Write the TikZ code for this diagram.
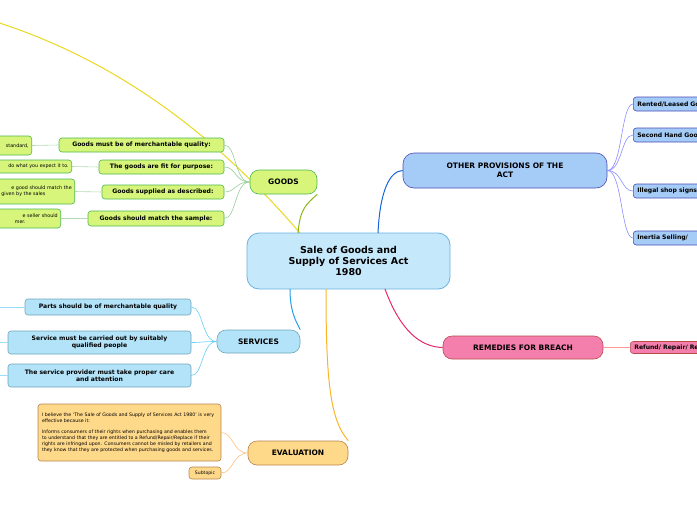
\documentclass[tikz,border=0pt]{standalone}
\usepackage{fontspec}
\setmainfont{DejaVu Sans}
\begin{document}
\begin{tikzpicture}[x=1pt,y=-1pt,
 box/.style={draw=#1!60!black!70,rounded corners=3pt,line width=0.6pt,font=\bfseries\fontsize{6.1}{7}\selectfont,inner sep=0pt,align=center},
 gbox/.style={box=green,fill=goodsc},
 sbox/.style={box=cyan,fill=servc},
 obox/.style={box=blue,fill=othc},
 pbox/.style={box=red,fill=remc},
 ebox/.style={box=orange,fill=evalc},
 link/.style={line width=0.6pt}]
\definecolor{goodsc}{HTML}{D6F57A}\definecolor{servc}{HTML}{B3E3F8}
\definecolor{othc}{HTML}{A5CBF7}\definecolor{remc}{HTML}{F57FAC}
\definecolor{evalc}{HTML}{FFD98A}\definecolor{centc}{HTML}{C5E8FB}
\useasboundingbox (0,0) rectangle (697,520);
\clip (0,0) rectangle (697,520);
% yellow curve
\draw[line width=1pt,color={rgb,255:red,232;green,216;blue,32}] (-10,20) .. controls (120,60) and (220,140) .. (300,233);
% center
\node[draw={rgb,255:red,106;green,178;blue,224},fill=centc,rounded corners=12pt,line width=0.8pt,minimum width=203pt,minimum height=56pt,font=\bfseries\fontsize{9.5}{11}\selectfont,align=center] (c) at (348.5,261) {Sale of Goods and\\Supply of Services Act\\1980};
% main topics
\node[gbox,rounded corners=9pt,minimum width=67pt,minimum height=24pt,font=\bfseries\fontsize{7.5}{9}\selectfont] (g) at (283.5,182) {GOODS};
\node[sbox,rounded corners=9pt,minimum width=83pt,minimum height=23pt,font=\bfseries\fontsize{7.5}{9}\selectfont] (s) at (258.5,341.5) {SERVICES};
\node[ebox,rounded corners=9pt,minimum width=100pt,minimum height=24pt,font=\bfseries\fontsize{7.5}{9}\selectfont] (e) at (298,453) {EVALUATION};
\node[obox,rounded corners=11pt,minimum width=204pt,minimum height=35pt,font=\bfseries\fontsize{7.5}{9}\selectfont] (o) at (505,170.5) {OTHER PROVISIONS OF THE\\ACT};
\node[pbox,rounded corners=9pt,minimum width=160pt,minimum height=23pt,font=\bfseries\fontsize{7.5}{9}\selectfont] (r) at (523,347.5) {REMEDIES FOR BREACH};
\draw[link,line width=1pt,color={rgb,255:red,140;green,180;blue,20}] (298,233) .. controls (300,210) and (305,205) .. (g.south east);
\draw[link,line width=1pt,color={rgb,255:red,40;green,160;blue,230}] (290,289) .. controls (290,310) and (295,320) .. (s.north east);
\draw[link,line width=1pt,color={rgb,255:red,250;green,180;blue,40}] (326,289) .. controls (326,380) and (330,420) .. (e.north east);
\draw[link,line width=1pt,color={rgb,255:red,20;green,100;blue,220}] (378,233) .. controls (380,190) and (390,171) .. (o.west);
\draw[link,line width=1pt,color={rgb,255:red,230;green,40;blue,110}] (385,289) .. controls (400,330) and (420,347) .. (r.west);
% goods children
\node[gbox,minimum width=165pt,minimum height=14pt] (g1) at (141.5,145) {Goods must be of merchantable quality:};
\node[gbox,minimum width=125pt,minimum height=14pt] (g2) at (161.5,167) {The goods are fit for purpose:};
\node[gbox,minimum width=122pt,minimum height=14pt] (g3) at (163,192) {Goods supplied as described:};
\node[gbox,minimum width=136pt,minimum height=15pt] (g4) at (156,218.5) {Goods should match the sample:};
\foreach \n in {g1,g2,g3,g4} \draw[link,green!50!black!40] (g.west) .. controls +(-15,0) and +(12,0) .. (\n.east);
\tikzset{gsm/.style={gbox,font=\fontsize{4.8}{5.8}\selectfont,align=left,text width=#1,inner xsep=3pt}}
\node[gsm=80pt,minimum height=19pt,anchor=east] (h1) at (32,145.5) {\hfill standard,};
\node[gsm=100pt,minimum height=13pt,anchor=east] (h2) at (72,166.5) {\hfill do what you expect it to.};
\node[gsm=110pt,minimum height=25pt,anchor=east] (h3) at (75,191.5) {\hfill e good should match the\\\hfill given by the sales\phantom{ match the}};
\node[gsm=90pt,minimum height=19pt,anchor=east] (h4) at (61,218.5) {\hfill e seller should\\\hfill mer.\phantom{ seller should}};
\draw[link,green!50!black!30] (h1.east)--(g1.west); \draw[link,green!50!black!30] (h2.east)--(g2.west);
\draw[link,green!50!black!30] (h3.east)--(g3.west); \draw[link,green!50!black!30] (h4.east)--(g4.west);
% services children
\node[sbox,minimum width=166pt,minimum height=16pt] (s1) at (108,307) {Parts should be of merchantable quality};
\node[sbox,minimum width=183pt,minimum height=23pt] (s2) at (99.5,342.5) {Service must be carried out by suitably\\qualified people};
\node[sbox,minimum width=183pt,minimum height=23pt] (s3) at (99.5,375.5) {The service provider must take proper care\\and attention};
\foreach \n in {s1,s2,s3} \draw[link,cyan!60] (s.west) .. controls +(-15,0) and +(12,0) .. (\n.east);
\draw[link,cyan!40] (s1.west)--(-5,307); \draw[link,cyan!40] (s2.west)--(-5,342.5); \draw[link,cyan!40] (s3.west)--(-5,375.5);
% evaluation
\node[ebox,minimum width=183pt,minimum height=57pt,font=\fontsize{4.7}{6}\selectfont,align=left,text width=175pt] (e1) at (129.5,432.5) {I believe the `The Sale of Goods and Supply of Services Act 1980' is very effective because it:\\[5.5pt]Informs consumers of their rights when purchasing and enables them to understand that they are entitled to a Refund/Repair/Replace if their rights are infringed upon. Consumers cannot be misled by retailers and they know that they are protected when purchasing goods and services.};
\node[ebox,minimum width=32pt,minimum height=12pt,font=\fontsize{4.6}{6}\selectfont] (e2) at (205,473) {Subtopic};
\foreach \n in {e1,e2} \draw[link,orange!50] (e.west) .. controls +(-15,0) and +(12,0) .. (\n.east);
% other provisions children
\tikzset{ob/.style={obox,minimum height=14pt,anchor=west,text width=80pt,align=left,inner xsep=4pt}}
\node[ob] (o1) at (633,104) {Rented/Leased Goods};
\node[ob] (o2) at (633,135) {Second Hand Goods};
\node[ob] (o3) at (633,191) {Illegal shop signs};
\node[ob] (o4) at (633,238) {Inertia Selling/};
\foreach \n in {o1,o2,o3,o4} \draw[link,blue!45] (o.east) .. controls +(15,0) and +(-12,0) .. (\n.west);
\node[pbox,minimum height=12pt,anchor=west,text width=90pt,align=left,inner xsep=4pt] (r1) at (630,347.5) {Refund/ Repair/ Replace};
\draw[link,red!40] (r.east)--(r1.west);
\end{tikzpicture}
\end{document}
